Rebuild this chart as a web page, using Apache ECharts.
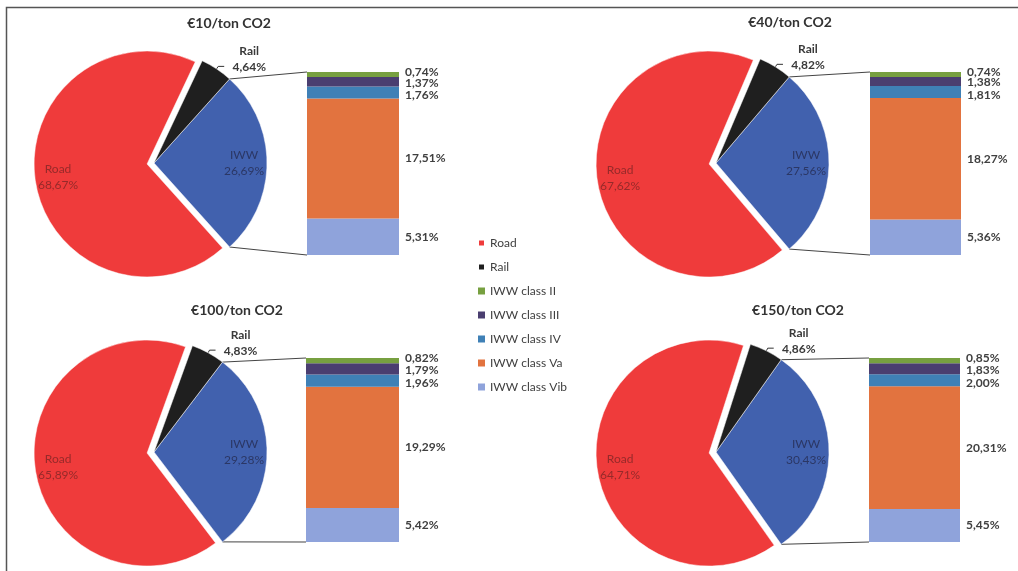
<!DOCTYPE html>
<html>
<head>
<meta charset="utf-8">
<title>Modal split per CO2 price</title>
<script src="https://cdn.jsdelivr.net/npm/echarts@6/dist/echarts.min.js"></script>
<style>
  html, body { margin: 0; padding: 0; background: #fff; }
  #main { width: 1018px; height: 571px; }
</style>
</head>
<body>
<div id="main"></div>
<script>
// scenarios (one panel each)
const scenarios = ['€10/ton CO2', '€40/ton CO2', '€100/ton CO2', '€150/ton CO2'];

// modal split (pie), in %
const road = [68.67, 67.62, 65.89, 64.71];
const rail = [4.64, 4.82, 4.83, 4.86];
const iww = [26.69, 27.56, 29.28, 30.43];

// IWW split by vessel class (bar), in %
const classII = [0.74, 0.74, 0.82, 0.85];
const classIII = [1.37, 1.38, 1.79, 1.83];
const classIV = [1.76, 1.81, 1.96, 2.00];
const classVa = [17.51, 18.27, 19.29, 20.31];
const classVib = [5.31, 5.36, 5.42, 5.45];

const legendNames = ['Road', 'Rail', 'IWW class II', 'IWW class III', 'IWW class IV', 'IWW class Va', 'IWW class Vib'];

const FONT = 'Lato, "Open Sans", sans-serif';
const R = 113;

const colors = {
  Road: '#ef3b3b',
  Rail: '#1f1f1f',
  IWW: '#4161ae',
  'IWW class II': '#77a040',
  'IWW class III': '#4a3e70',
  'IWW class IV': '#3f80b6',
  'IWW class Va': '#e2733f',
  'IWW class Vib': '#8fa3db'
};

// panel placement
const panels = [
  { pie: [154, 163], bar: { left: 307, top: 72, width: 92, height: 183 }, title: [229, 23] },
  { pie: [716, 163], bar: { left: 870, top: 72, width: 91, height: 183 }, title: [790, 22] },
  { pie: [154, 452], bar: { left: 306, top: 358, width: 93, height: 184 }, title: [237, 310] },
  { pie: [716, 452], bar: { left: 869, top: 358, width: 91, height: 184 }, title: [798, 310] }
];

function fmt(v) {
  return v.toFixed(2).replace('.', ',') + '%';
}

const grid = [], xAxis = [], yAxis = [], series = [], labelSeries = [];

panels.forEach(function (p, i) {
  const start = iww[i] * 3.6 / 2;

  // main pie
  series.push({
    type: 'pie',
    center: p.pie,
    radius: R,
    startAngle: start,
    clockwise: true,
    selectedMode: 'single',
    selectedOffset: 7,
    silent: true,
    animation: false,
    itemStyle: { borderColor: '#fff', borderWidth: 0.5 },
    select: { itemStyle: { borderColor: '#fff', borderWidth: 0.5 } },
    label: { show: false },
    labelLine: { show: false },
    data: [
      { name: 'IWW', value: iww[i], itemStyle: { color: colors.IWW } },
      { name: 'Road', value: road[i], selected: true, itemStyle: { color: colors.Road } },
      {
        name: 'Rail', value: rail[i], itemStyle: { color: colors.Rail },
        label: {
          show: true, position: 'outside',
          formatter: function (prm) { return '{a|Rail}\n{a|' + fmt(prm.value) + '}'; },
          padding: [0, 0, 14, 0],
          rich: { a: { width: 40, align: 'center', fontFamily: FONT, fontSize: 12, fontWeight: 'bold', color: '#3a3a3a', lineHeight: 16 } }
        },
        labelLine: { show: true, length: 3, length2: 6, lineStyle: { color: '#333', width: 1 } }
      }
    ]
  });

  // transparent ring carrying the inside labels
  labelSeries.push({
    type: 'pie',
    center: p.pie,
    radius: [R * 0.54, R],
    startAngle: start,
    clockwise: true,
    selectedMode: 'single',
    selectedOffset: 7,
    silent: true,
    animation: false,
    itemStyle: { color: 'transparent' },
    label: {
      show: true, position: 'inside',
      fontFamily: FONT, fontSize: 12, lineHeight: 16,
      formatter: function (prm) { return prm.name + '\n' + fmt(prm.value); }
    },
    labelLine: { show: false },
    data: [
      { name: 'IWW', value: iww[i], label: { color: '#2b3765' } },
      { name: 'Road', value: road[i], selected: true, label: { color: '#962a2a' } },
      { name: 'Rail', value: rail[i], label: { show: false } }
    ]
  });

  // bar of the IWW split
  grid.push(Object.assign({ containLabel: false }, p.bar));
  xAxis.push({ type: 'category', gridIndex: i, data: ['IWW'], show: false });
  const total = classII[i] + classIII[i] + classIV[i] + classVa[i] + classVib[i];
  yAxis.push({ type: 'value', gridIndex: i, min: 0, max: total, show: false });

  const stackOrder = [
    ['IWW class Vib', classVib, [0, 0]],
    ['IWW class Va', classVa, [0, 0]],
    ['IWW class IV', classIV, [0, 3]],
    ['IWW class III', classIII, [0, 1]],
    ['IWW class II', classII, [0, -2]]
  ];
  stackOrder.forEach(function (s) {
    series.push({
      type: 'bar',
      name: s[0],
      xAxisIndex: i,
      yAxisIndex: i,
      stack: 'iww' + i,
      barWidth: '100%',
      silent: true,
      animation: false,
      itemStyle: { color: colors[s[0]] },
      label: {
        show: true, position: 'right', distance: 6, offset: s[2],
        fontFamily: FONT, fontSize: 12, fontWeight: 'bold', color: '#404040', lineHeight: 11,
        formatter: function (prm) { return fmt(prm.value); }
      },
      data: [s[1][i]]
    });
  });
});

const titles = scenarios.map(function (t, i) {
  return {
    type: 'text', id: 'title' + i,
    x: panels[i].title[0], y: panels[i].title[1],
    style: { text: t, align: 'center', verticalAlign: 'middle', fontFamily: FONT, fontSize: 14, fontWeight: 'bold', fill: '#333' }
  };
});

const chart = echarts.init(document.getElementById('main'), null, { renderer: 'canvas' });

chart.setOption({
  backgroundColor: '#fff',
  animation: false,
  legend: {
    data: legendNames,
    orient: 'vertical',
    left: 472,
    top: 231,
    icon: 'rect',
    itemWidth: 7,
    itemHeight: 7,
    itemGap: 10,
    selectedMode: false,
    textStyle: { fontFamily: FONT, fontSize: 12, color: '#404040', lineHeight: 14 }
  },
  grid: grid,
  xAxis: xAxis,
  yAxis: yAxis,
  series: series.concat(labelSeries),
  graphic: [
    {
      type: 'rect', id: 'frame', silent: true,
      shape: { x: 6.5, y: 7.5, width: 1100, height: 700 },
      style: { fill: 'none', stroke: '#555', lineWidth: 1.5 }
    }
  ].concat(titles)
});

// connector lines from the IWW slice to its bar
const connectors = [];
panels.forEach(function (p, i) {
  const a = iww[i] * 3.6 / 2 * Math.PI / 180;
  const total = classII[i] + classIII[i] + classIV[i] + classVa[i] + classVib[i];
  const topPx = chart.convertToPixel({ gridIndex: i }, [0, total]);
  const botPx = chart.convertToPixel({ gridIndex: i }, [0, 0]);
  const barLeft = p.bar.left;
  const px = p.pie[0] + R * Math.cos(a);
  connectors.push({
    type: 'line', id: 'ct' + i, silent: true,
    shape: { x1: px, y1: p.pie[1] - R * Math.sin(a), x2: barLeft, y2: topPx[1] },
    style: { stroke: '#444', lineWidth: 1 }
  });
  connectors.push({
    type: 'line', id: 'cb' + i, silent: true,
    shape: { x1: px, y1: p.pie[1] + R * Math.sin(a), x2: barLeft, y2: botPx[1] },
    style: { stroke: '#444', lineWidth: 1 }
  });
});
chart.setOption({ graphic: connectors });
</script>
</body>
</html>
